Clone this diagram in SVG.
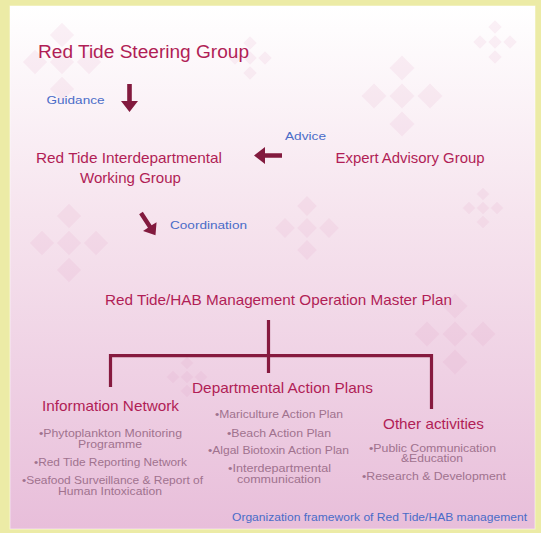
<svg xmlns="http://www.w3.org/2000/svg" xmlns:xlink="http://www.w3.org/1999/xlink" width="541" height="533" viewBox="0 0 541 533">
<defs>
<linearGradient id="panelGrad" x1="0" y1="0" x2="0" y2="1">
<stop offset="0" stop-color="#FFFFFF"/>
<stop offset="0.4" stop-color="#F6E4EE"/>
<stop offset="1" stop-color="#E8BEDA"/>
</linearGradient>
<g id="cluster">
<path d="M0,-2.9 L0.9,-2 L0,-1.1 L-0.9,-2 Z M-2,-0.9 L-1.1,0 L-2,0.9 L-2.9,0 Z M0,-0.9 L0.9,0 L0,0.9 L-0.9,0 Z M2,-0.9 L2.9,0 L2,0.9 L1.1,0 Z M0,1.1 L0.9,2 L0,2.9 L-0.9,2 Z"/>
</g>
<path id="arrow" d="M-2.3,0 H2.3 V17 H8.5 L0,28 L-8.5,17 H-2.3 Z"/>
<style>
.t{font-family:"Liberation Sans",Arial,sans-serif;text-anchor:middle}
.title{fill:#B11E56;font-size:17.5px}
.head{fill:#B11E56;font-size:14.5px}
.lbl{fill:#4A6CC8;font-size:11.5px}
.bul{fill:#A0728E;font-size:10.5px}
.cap{fill:#4A6CC8;font-size:11px}
.deco{fill:#D88AB2;fill-opacity:0.11}
.arr{fill:#821A3E}
.line{stroke:#861A3F;stroke-width:3.2;fill:none}
</style>
</defs>
<rect x="0" y="0" width="541" height="533" fill="#ECEBA6"/>
<rect x="10" y="6" width="525" height="523" fill="url(#panelGrad)" stroke="#FFFFFF" stroke-opacity="0.5" stroke-width="1"/>
<g id="decorations" class="deco">
<use xlink:href="#cluster" transform="translate(62,62) scale(13.5)"/>
<use xlink:href="#cluster" transform="translate(250,58) scale(7.5)"/>
<use xlink:href="#cluster" transform="translate(402,96) scale(14)"/>
<use xlink:href="#cluster" transform="translate(495,42) scale(7.5)"/>
<use xlink:href="#cluster" transform="translate(69,243) scale(13.5)"/>
<use xlink:href="#cluster" transform="translate(307,228) scale(11)"/>
<use xlink:href="#cluster" transform="translate(483,208) scale(7)"/>
<use xlink:href="#cluster" transform="translate(455,334) scale(14)"/>
<use xlink:href="#cluster" transform="translate(187,377) scale(7)"/>
</g>
<g id="connectors">
<use xlink:href="#arrow" class="arr" transform="translate(129.5,84)"/>
<use xlink:href="#arrow" class="arr" transform="translate(282,155.5) rotate(90)"/>
<use xlink:href="#arrow" class="arr" transform="translate(141,213) rotate(-33) scale(0.95)"/>
<text class="t lbl" x="75.5" y="103.5" textLength="58" lengthAdjust="spacingAndGlyphs">Guidance</text>
<text class="t lbl" x="305.5" y="140" textLength="41" lengthAdjust="spacingAndGlyphs">Advice</text>
<text class="t lbl" x="208.5" y="228.5" textLength="77" lengthAdjust="spacingAndGlyphs">Coordination</text>
<path class="line" d="M268.5,320 V373 M110.5,387 V355.7 H431.5 V409"/>
</g>
<g id="steering-group">
<text class="t title" x="143.5" y="57.5" textLength="211" lengthAdjust="spacingAndGlyphs">Red Tide Steering Group</text>
</g>
<g id="interdepartmental-working-group">
<text class="t head" x="129" y="163" textLength="186" lengthAdjust="spacingAndGlyphs">Red Tide Interdepartmental</text>
<text class="t head" x="130.5" y="183" textLength="101" lengthAdjust="spacingAndGlyphs">Working Group</text>
</g>
<g id="expert-advisory-group">
<text class="t head" x="410" y="163" textLength="149" lengthAdjust="spacingAndGlyphs">Expert Advisory Group</text>
</g>
<g id="master-plan">
<text class="t head" x="278.5" y="305" textLength="347" lengthAdjust="spacingAndGlyphs">Red Tide/HAB Management Operation Master Plan</text>
</g>
<g id="information-network">
<text class="t head" x="110.5" y="411" textLength="137" lengthAdjust="spacingAndGlyphs">Information Network</text>
<text class="t bul" x="110.5" y="437.3" textLength="143" lengthAdjust="spacingAndGlyphs">•Phytoplankton Monitoring</text>
<text class="t bul" x="110" y="448" textLength="64" lengthAdjust="spacingAndGlyphs">Programme</text>
<text class="t bul" x="110.5" y="465.6" textLength="153" lengthAdjust="spacingAndGlyphs">•Red Tide Reporting Network</text>
<text class="t bul" x="112.5" y="483.5" textLength="181" lengthAdjust="spacingAndGlyphs">•Seafood Surveillance &amp; Report of</text>
<text class="t bul" x="110" y="494.6" textLength="104" lengthAdjust="spacingAndGlyphs">Human Intoxication</text>
</g>
<g id="departmental-action-plans">
<text class="t head" x="282.5" y="392.8" textLength="181" lengthAdjust="spacingAndGlyphs">Departmental Action Plans</text>
<text class="t bul" x="279" y="418.3" textLength="128" lengthAdjust="spacingAndGlyphs">•Mariculture Action Plan</text>
<text class="t bul" x="279" y="436.6" textLength="104" lengthAdjust="spacingAndGlyphs">•Beach Action Plan</text>
<text class="t bul" x="278.5" y="454.3" textLength="141" lengthAdjust="spacingAndGlyphs">•Algal Biotoxin Action Plan</text>
<text class="t bul" x="279.5" y="472.3" textLength="103" lengthAdjust="spacingAndGlyphs">•Interdepartmental</text>
<text class="t bul" x="279" y="483" textLength="84" lengthAdjust="spacingAndGlyphs">communication</text>
</g>
<g id="other-activities">
<text class="t head" x="433.5" y="429" textLength="101" lengthAdjust="spacingAndGlyphs">Other activities</text>
<text class="t bul" x="432.5" y="451.6" textLength="127" lengthAdjust="spacingAndGlyphs">•Public Communication</text>
<text class="t bul" x="432" y="462.3" textLength="62" lengthAdjust="spacingAndGlyphs">&amp;Education</text>
<text class="t bul" x="434" y="480" textLength="144" lengthAdjust="spacingAndGlyphs">•Research &amp; Development</text>
</g>
<g id="caption">
<text class="t cap" x="379.5" y="520.5" textLength="295" lengthAdjust="spacingAndGlyphs">Organization framework of Red Tide/HAB management</text>
</g>
</svg>
